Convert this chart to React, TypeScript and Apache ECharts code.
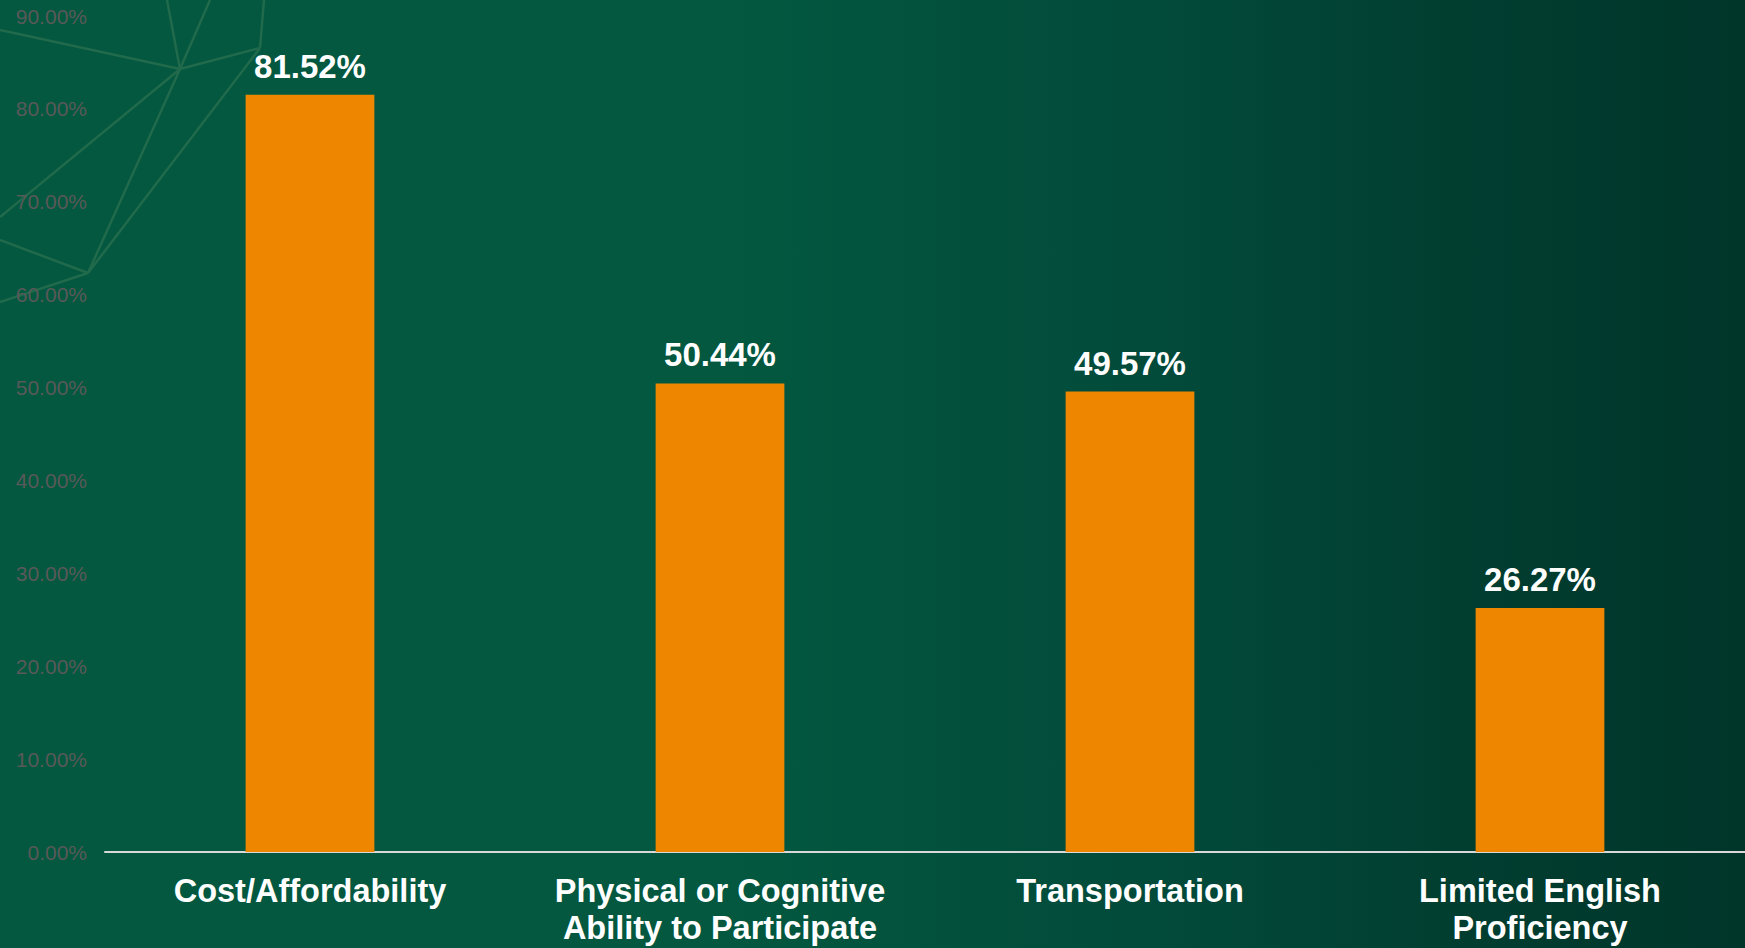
import React, { useEffect, useRef } from "react";
import * as echarts from "echarts";

const categories = [
  "Cost/Affordability",
  "Physical or Cognitive\nAbility to Participate",
  "Transportation",
  "Limited English\nProficiency",
];
const values = [81.52, 50.44, 49.57, 26.27];
const yMin = 0;
const yMax = 90;
const yInterval = 10;

const decoLines: number[][] = [
  [0, 30, 180, 69],
  [180, 69, 260, 48],
  [260, 48, 264, 0],
  [180, 69, 167, 0],
  [180, 69, 210, 0],
  [180, 69, 0, 217],
  [180, 69, 88, 273],
  [260, 48, 88, 273],
  [88, 273, 0, 240],
  [88, 273, 0, 302],
];

export default function App() {
  const ref = useRef<HTMLDivElement>(null);
  useEffect(() => {
    if (!ref.current) return;
    const chart = echarts.init(ref.current, null, { renderer: "svg" });
    const font = "'Liberation Sans', Arial, sans-serif";
    chart.setOption({
      animation: false,
      graphic: decoLines.map((l) => ({
        type: "line",
        z: -10,
        silent: true,
        shape: { x1: l[0], y1: l[1], x2: l[2], y2: l[3] },
        style: { stroke: "#216a4c", lineWidth: 2.5 },
      })),
      grid: { left: 105, right: 0, top: 16, bottom: 96, containLabel: false },
      xAxis: {
        type: "category",
        data: categories,
        axisLine: { show: true, lineStyle: { color: "#d9d9d9", width: 2 } },
        axisTick: { show: false },
        axisLabel: {
          interval: 0,
          color: "#ffffff",
          fontFamily: font,
          fontWeight: "bold",
          fontSize: 32.5,
          lineHeight: 37,
          margin: 20,
        },
      },
      yAxis: {
        type: "value",
        min: yMin,
        max: yMax,
        interval: yInterval,
        axisLine: { show: false },
        axisTick: { show: false },
        splitLine: { show: false },
        axisLabel: {
          color: "#595959",
          fontFamily: font,
          fontSize: 21,
          margin: 18,
          formatter: (v: number) => v.toFixed(2) + "%",
        },
      },
      series: [
        {
          type: "bar",
          data: values,
          barWidth: "31.4%",
          itemStyle: { color: "#ee8600" },
          label: {
            show: true,
            position: "top",
            distance: 12,
            color: "#ffffff",
            fontFamily: font,
            fontWeight: "bold",
            fontSize: 33,
            formatter: (p: any) => p.value.toFixed(2) + "%",
          },
        },
      ],
    });
    return () => chart.dispose();
  }, []);
  return (
    <div
      ref={ref}
      style={{
        position: "absolute",
        left: 0,
        top: 0,
        width: 1745,
        height: 948,
        background:
          "linear-gradient(to right, #03583f 0%, #03583f 42%, #02493a 68%, #013f31 82%, #00352a 100%)",
      }}
    />
  );
}
